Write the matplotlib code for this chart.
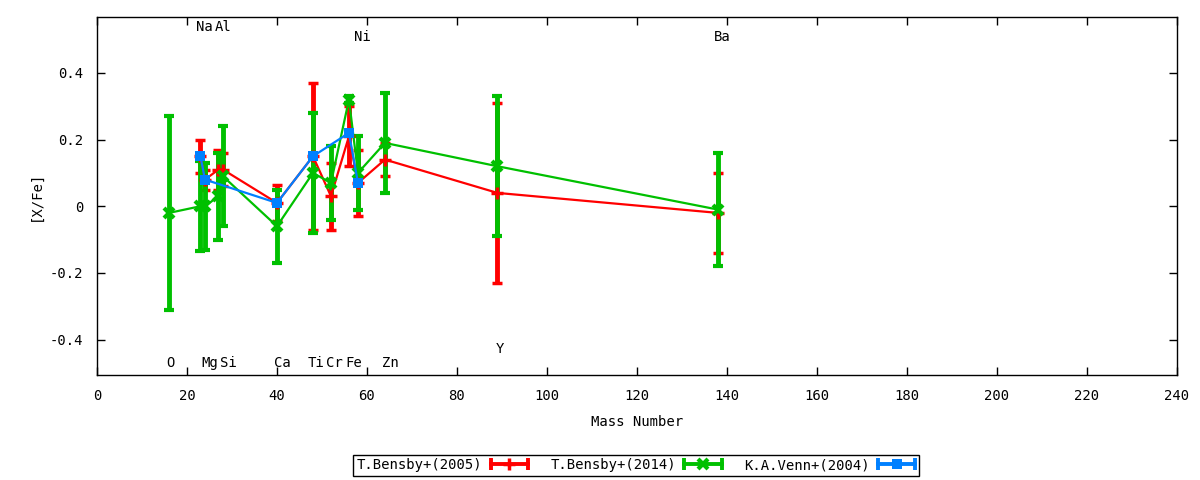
import matplotlib
matplotlib.use('Agg')
import matplotlib.pyplot as plt
from matplotlib.lines import Line2D
from matplotlib.legend_handler import HandlerBase
from matplotlib.ticker import FuncFormatter, MultipleLocator

plt.rcParams['font.family'] = ['DejaVu Sans Mono']
plt.rcParams['font.size'] = 10

# T.Bensby+(2005): Na Mg Al Si Ca Ti Cr Fe Ni Zn Y Ba
mass_05 = [23, 24, 27, 28, 40, 48, 52, 56, 58, 64, 89, 138]
xfe_05 = [0.15, 0.08, 0.11, 0.11, 0.01, 0.15, 0.03, 0.21, 0.07, 0.14, 0.04, -0.02]
err_05 = [0.05, 0.03, 0.06, 0.05, 0.055, 0.22, 0.10, 0.09, 0.10, 0.05, 0.27, 0.12]

# T.Bensby+(2014): O Na Mg Al Si Ca Ti Cr Fe Ni Zn Y Ba
mass_14 = [16, 23, 24, 27, 28, 40, 48, 52, 56, 58, 64, 89, 138]
xfe_14 = [-0.02, 0.00, 0.00, 0.03, 0.09, -0.06, 0.10, 0.07, 0.32, 0.10, 0.19, 0.12, -0.01]
err_14 = [0.29, 0.135, 0.13, 0.13, 0.15, 0.11, 0.18, 0.11, 0.01, 0.11, 0.15, 0.21, 0.17]

# K.A.Venn+(2004): Na Mg Ca Ti Fe Ni
mass_04 = [23, 24, 40, 48, 56, 58]
xfe_04 = [0.15, 0.08, 0.01, 0.15, 0.22, 0.07]
err_04 = [0, 0, 0, 0, 0, 0]

# element labels
elem_names = ['O', 'Na', 'Mg', 'Al', 'Si', 'Ca', 'Ti', 'Cr', 'Fe', 'Ni', 'Zn', 'Y', 'Ba']
elem_x = [16.4, 23.9, 25.1, 28.0, 29.1, 41.2, 48.7, 52.7, 57.1, 59.0, 65.3, 89.5, 139.0]
elem_y = [-0.47, 0.537, -0.47, 0.537, -0.47, -0.47, -0.47, -0.47, -0.47, 0.507, -0.47, -0.429, 0.507]

series = [
    ('T.Bensby+(2005)', mass_05, xfe_05, err_05, '#ff0000', '+', 9, 2.5),
    ('T.Bensby+(2014)', mass_14, xfe_14, err_14, '#00c000', 'x', 7.5, 3),
    ('K.A.Venn+(2004)', mass_04, xfe_04, err_04, '#0080ff', 's', 7.5, 0),
]


# gnuplot-style key sample: horizontal bar with end caps and the point in the middle
class HandlerHBar(HandlerBase):
    def create_artists(self, legend, orig_handle, xdescent, ydescent,
                       width, height, fontsize, trans):
        c = orig_handle.get_color()
        y = height / 2 - ydescent
        x0, x1 = -xdescent, width - xdescent
        line = Line2D([x0, x1], [y, y], color=c, lw=2.8)
        caps = Line2D([x0, x1], [y, y], ls='none', color=c, marker='|', ms=8, mew=2.8)
        mid = Line2D([(x0 + x1) / 2], [y], ls='none', color=c,
                     marker=orig_handle.get_marker(), ms=orig_handle.get_markersize(),
                     mew=orig_handle.get_markeredgewidth())
        for a in (line, caps, mid):
            a.set_transform(trans)
        return [line, caps, mid]


fig = plt.figure(figsize=(12, 4.8), dpi=100)
ax = fig.add_axes([0.0808, 0.219, 0.9, 0.745])

handles = []
for label, m, v, e, c, mk, ms, mew in series:
    ax.errorbar(m, v, yerr=e, color=c, lw=1.6, elinewidth=3.5,
                capsize=3.5, capthick=2.4, marker=mk, ms=ms, mew=mew)
    handles.append(Line2D([], [], color=c, marker=mk, ms=ms, mew=mew, label=label))

for name, x, y in zip(elem_names, elem_x, elem_y):
    ax.text(x, y, name, ha='center', va='center')

ax.set_xlim(0, 240)
ax.set_ylim(-0.506, 0.567)
ax.xaxis.set_major_locator(MultipleLocator(20))
ax.yaxis.set_major_locator(MultipleLocator(0.2))
ax.yaxis.set_major_formatter(FuncFormatter(lambda v, p: '%g' % round(v, 2)))
ax.tick_params(direction='in', top=True, right=True, length=6, width=1, pad=10)
for s in ax.spines.values():
    s.set_linewidth(1)

ax.set_xlabel('Mass Number', labelpad=9)
ax.set_ylabel('[X/Fe]', labelpad=5)

fig.legend(handles=handles, handler_map={Line2D: HandlerHBar()},
           loc='center', bbox_to_anchor=(0.53, 0.031), ncol=3, markerfirst=False,
           frameon=True, fancybox=False, edgecolor='black', framealpha=1,
           borderpad=0.25, handlelength=2.7, columnspacing=1.6, handletextpad=0.6,
           borderaxespad=0)

fig.savefig('out.png', dpi=100)
